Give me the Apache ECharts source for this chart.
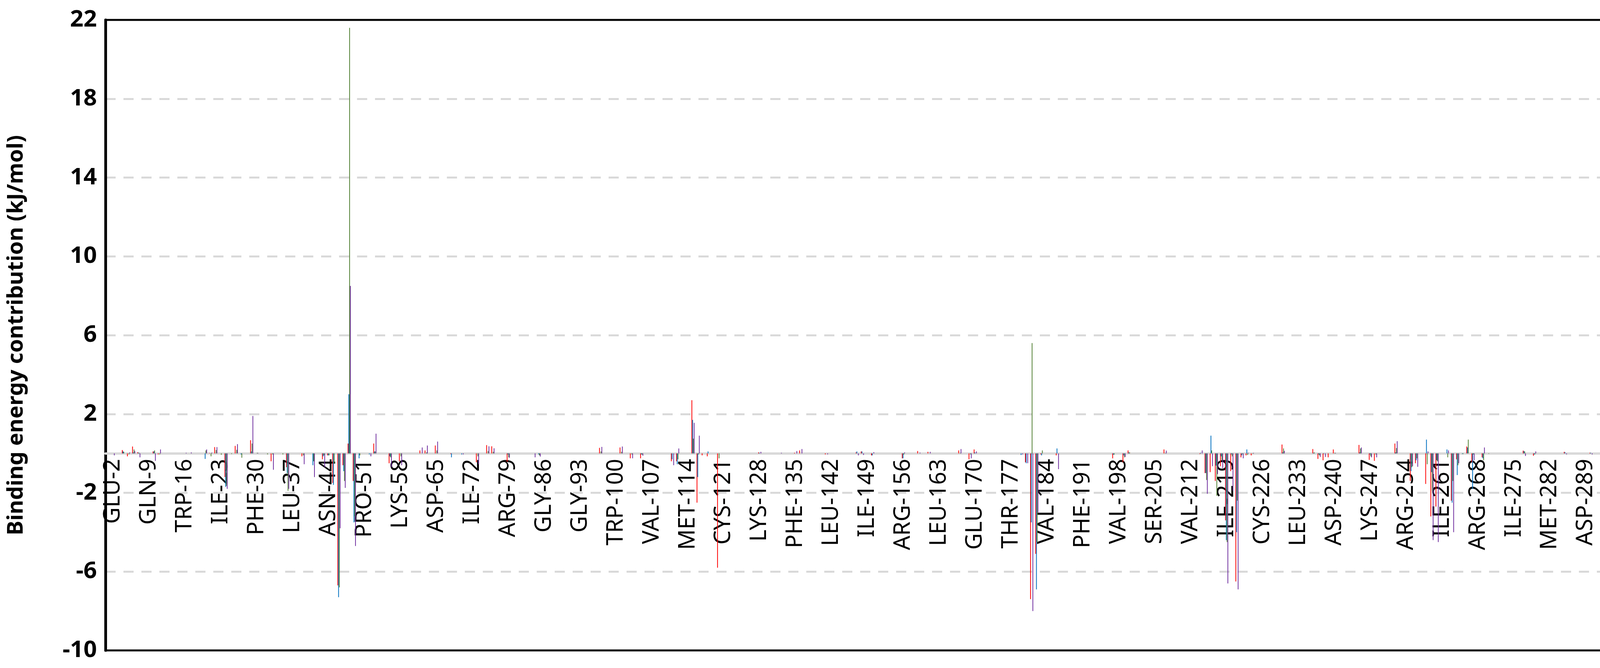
<!DOCTYPE html>
<html><head><meta charset="utf-8">
<script src="https://cdn.jsdelivr.net/npm/echarts@6/dist/echarts.min.js"></script>
<style>html,body{margin:0;padding:0;background:#fff;overflow:hidden}#c{width:4239px;height:1710px}</style>
</head><body><div id="c"></div>
<script>
const residueCount = 300;
const tickLabels = ["GLU-2","GLN-9","TRP-16","ILE-23","PHE-30","LEU-37","ASN-44","PRO-51","LYS-58","ASP-65","ILE-72","ARG-79","GLY-86","GLY-93","TRP-100","VAL-107","MET-114","CYS-121","LYS-128","PHE-135","LEU-142","ILE-149","ARG-156","LEU-163","GLU-170","THR-177","VAL-184","PHE-191","VAL-198","SER-205","VAL-212","ILE-219","CYS-226","LEU-233","ASP-240","LYS-247","ARG-254","ILE-261","ARG-268","ILE-275","MET-282","ASP-289","HSD-296"];
// residues with a non-zero contribution, and values per series aligned with them
const residues = [2,4,5,6,7,10,11,16,17,20,21,22,23,24,25,26,27,29,30,32,33,35,36,39,41,43,44,45,46,47,48,49,50,52,53,56,58,62,63,65,68,70,73,75,76,79,84,85,97,101,103,105,111,112,115,116,117,118,120,128,132,135,136,141,147,148,150,156,159,161,167,169,170,179,180,181,182,183,186,197,199,200,207,214,215,216,217,218,219,220,221,222,223,224,230,236,237,238,239,240,245,247,248,252,255,256,258,259,260,262,263,264,265,266,267,269,270,277,279,285,290,293,294,298,299,300];
const red = [0,0.17,-0.15,0.35,0.06,0.1,-0.05,0,0,0,0.02,0.32,0,-1.2,0,0.38,0,0.67,0,0,-0.4,0,-0.7,-0.15,0,-0.3,-0.1,-1.5,-6.7,-0.6,0.5,-1.4,0,0,0.5,-0.5,-0.4,0.15,0.15,0.4,-0.03,0,-0.45,0.42,0.36,-0.42,0,0,0.28,0.3,-0.25,-0.25,-0.4,-0.4,2.7,-2.5,-0.1,-0.15,-5.8,0.05,0,0.03,0.15,-0.05,0.05,0.1,-0.1,-0.25,0.12,0.08,0.15,-0.3,0.2,0,-0.45,-7.4,-5.1,-0.05,-0.1,-0.25,-0.45,0.15,0.2,-0.03,-1.0,-0.95,-1.4,-0.65,-3.4,-0.9,-6.5,-0.2,-0.1,-0.1,0.45,0.22,-0.28,-0.35,-0.2,0.2,0.43,-0.33,-0.38,0.5,-1.4,-0.5,-1.55,-3.2,-2.7,0,-2.4,-0.3,0,0.35,-0.45,-0.2,0,0.14,-0.12,0.08,0.03,-0.12,0,0.1,0,0];
const blue = [0,0.1,0,0.05,0.04,0.1,0,0,0,-0.28,0,0,0,-1.7,0,0,-0.05,0.1,0,0,0,0,-1.0,0,-0.6,-0.15,-0.1,-1.6,-7.3,-0.9,3.0,-3.5,-0.25,-0.05,0.1,-0.15,0,0,0,0,-0.2,-0.05,0,0,0,-0.05,0,-0.05,0,0,0,-0.05,-0.3,-0.55,1.7,-1.2,0,0.1,0,0.03,0,0,0,0,0.1,0.1,-0.1,-0.25,0,0,0,0,0.05,-0.08,-0.5,-3.5,-6.9,-0.1,0.25,-0.07,-0.1,0.05,0,0.03,-1.0,0.9,-0.62,-0.15,-4.4,-0.05,-4.0,-0.1,0.2,0,0.05,0.03,-0.05,-0.02,0,0,0.05,-0.05,0,0.05,-0.9,-0.35,0.7,-0.95,-0.35,0.2,-2.5,-1.1,-0.03,0.3,-1.8,-0.25,0,0.12,-0.06,0.06,0.03,-0.05,0.02,0.08,0.15,0];
const green = [0,0.08,-0.05,0.2,0.03,0.15,-0.05,0,0,0.15,-0.15,0.17,-0.07,-1.65,-0.03,0.18,-0.22,0.5,0.03,-0.05,-0.05,-0.05,-1.9,-0.1,-0.4,-0.1,-0.1,-0.5,-6.8,-1.4,21.6,-3.2,-0.1,0,0.1,-0.2,-0.15,0,0.05,0.15,0,0,-0.15,0.12,0.08,-0.2,0,-0.1,0.1,0.08,-0.05,-0.06,0,-0.3,0.75,-0.05,0,0,-0.25,0,0,0,0,0,0,0,0,-0.06,0,0,0.02,-0.05,0,0,0,5.6,-4.5,0.15,0,-0.06,-0.2,0.05,0.02,0,-1.35,0.15,-2.15,-0.35,-4.5,-0.15,-2.4,-0.03,-0.08,-0.02,0.25,0.05,-0.1,0,0,0.03,0.25,-0.15,-0.05,0.27,-0.7,-0.25,-0.55,-1.9,-0.4,-0.2,-1.4,-0.6,-0.03,0.7,-0.05,-0.35,-0.02,0.1,-0.04,0,0,-0.04,0,0.06,0,0];
const purple = [-0.1,0,0.05,0.12,-0.2,-0.38,0.2,0.03,0.05,0.2,0.04,0.32,0,-1.8,0,0.47,0,1.9,0.02,0,-0.83,0,-1.8,-0.55,-1.2,-0.7,0,0,-3.8,-1.75,8.5,-4.7,0,-0.15,1.0,-0.7,-0.6,0.3,0.4,0.6,0,-0.05,-0.55,0.36,0.26,-0.22,-0.2,-0.16,0.33,0.35,-0.25,-0.12,-0.6,0.25,1.55,0.9,0,0,0,0.08,0.03,0.12,0.22,-0.05,-0.1,-0.08,0.06,0.05,0.04,0.08,0.22,-0.25,0.1,-0.05,-0.5,-8.0,-3.0,0,-0.8,0,-0.18,0,0.14,0.15,-2.05,-0.65,-1.05,-0.75,-6.6,-1.9,-6.9,-0.25,0.03,0.02,0.13,0,-0.18,-0.18,0,0.02,0.3,-0.2,-0.2,0.62,-0.65,-0.68,0.1,-4.4,-4.5,0.15,-4.0,-0.5,0,0,-0.35,0.3,0,-0.13,0.1,-0.05,-0.05,0.03,-0.2,-0.08,-0.2,-0.28];

const categories = [];
for (let r = 1; r <= residueCount; r++) categories.push(r);
const labelMap = {};
tickLabels.forEach(t => { labelMap[+t.split('-')[1]] = t; });
function full(vals) {
  const d = new Array(residueCount).fill(0);
  residues.forEach((r, i) => { d[r - 1] = vals[i]; });
  return d;
}
const yMin = -10, yMax = 22;
const gridTop = 51, gridBottom = 45, H = 1710;
const plotH = H - gridTop - gridBottom;
const zeroOffset = -plotH * (0 - yMin) / (yMax - yMin);
const seriesDefs = [["Red", red, "#FF0000"], ["Blue", blue, "#0070C0"], ["Green", green, "#538135"], ["Purple", purple, "#7030A0"]];
const chart = echarts.init(document.getElementById('c'));
chart.setOption({
  animation: false,
  backgroundColor: '#fff',
  grid: { left: 270, right: 28, top: gridTop, bottom: gridBottom, show: true, borderColor: '#000', borderWidth: 5, containLabel: false, outerBoundsMode: 'none' },
  xAxis: [{
    type: 'category', data: categories, position: 'bottom', offset: zeroOffset,
    axisLine: { onZero: false, lineStyle: { color: '#D9D9D9', width: 6 } },
    axisTick: { show: false },
    axisLabel: {
      interval: (i) => i % 7 === 1, rotate: 90, margin: 14, hideOverlap: false,
      formatter: v => labelMap[v] || '',
      fontFamily: 'Noto Sans', fontSize: 58, color: '#000'
    },
    splitLine: { show: false }
  }],
  yAxis: {
    type: 'value', min: yMin, max: yMax, interval: 4,
    name: 'Binding energy contribution (kJ/mol)', nameLocation: 'middle', nameGap: 200,
    nameTextStyle: { fontFamily: 'Noto Sans', fontWeight: 'bold', fontSize: 56, color: '#000' },
    axisLine: { show: true, lineStyle: { color: '#000', width: 7 } },
    axisTick: { show: false },
    axisLabel: { fontFamily: 'Noto Sans', fontWeight: 'bold', fontSize: 60, color: '#000', margin: 22 },
    splitLine: { show: true, showMinLine: false, showMaxLine: false, lineStyle: { color: '#D9D9D9', width: 5, type: [26, 20] } }
  },
  series: seriesDefs.map(([n, v, c]) => ({
    name: n, type: 'bar', data: full(v), barGap: '0%', barCategoryGap: '40%',
    itemStyle: { color: c }
  }))
});
</script></body></html>
